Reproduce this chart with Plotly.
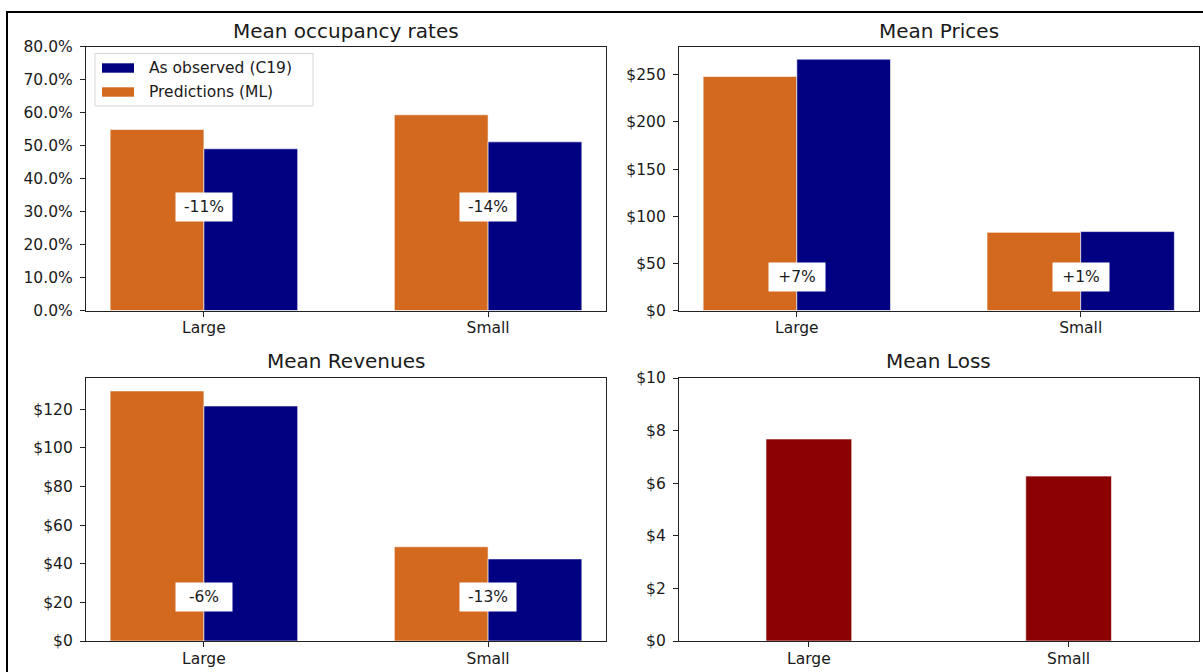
import plotly.graph_objects as go

# ---------------- data ----------------
categories = ["Large", "Small"]
occ_pred = [0.5485, 0.593]
occ_obs = [0.490, 0.511]
price_pred = [248.2, 82.9]
price_obs = [266.6, 83.7]
rev_pred = [129.5, 48.8]
rev_obs = [121.7, 42.5]
loss = [7.68, 6.27]

titles = ["Mean occupancy rates", "Mean Prices", "Mean Revenues", "Mean Loss"]
legend_names = ["As observed (C19)", "Predictions (ML)"]

# ---------------- style ----------------
W, H = 1203, 672
ORANGE = "#D2691E"
NAVY = "#000080"
DARKRED = "#8B0000"
TXT = "#1a1a1a"
FONT = "DejaVu Sans"
TICK_SIZE = 15.5
TITLE_SIZE = 20
BW = 0.33


def px(x):
    return x / W


def py(y):
    return 1 - y / H


fig = go.Figure()

edge = dict(color="rgba(255,255,255,0.75)", width=0.8)

panels = [
    ("x", "y", occ_pred, occ_obs),
    ("x2", "y2", price_pred, price_obs),
    ("x3", "y3", rev_pred, rev_obs),
]
for xa, ya, pred, obs in panels:
    fig.add_trace(go.Bar(x=categories, y=pred, width=BW, offset=-BW,
                         marker=dict(color=ORANGE, line=edge),
                         xaxis=xa, yaxis=ya, showlegend=False,
                         name=legend_names[1]))
    fig.add_trace(go.Bar(x=categories, y=obs, width=BW, offset=0,
                         marker=dict(color=NAVY, line=edge),
                         xaxis=xa, yaxis=ya, showlegend=False,
                         name=legend_names[0]))

fig.add_trace(go.Bar(x=categories, y=loss, width=BW, offset=-BW / 2,
                     marker=dict(color=DARKRED, line=edge),
                     xaxis="x4", yaxis="y4", showlegend=False, name="Mean Loss"))

# ---------------- axes ----------------
left_dom = [px(86), px(606)]
right_dom = [px(679), px(1198.5)]
top_dom = [py(310.5), py(46.5)]
bot_dom = [py(641), py(378)]

common = dict(showline=True, mirror=True, linecolor="#222", linewidth=1.3,
              ticks="outside", ticklen=5, tickwidth=1.2, tickcolor="#222",
              showgrid=False, zeroline=False, automargin=False,
              tickfont=dict(family=FONT, size=TICK_SIZE, color=TXT))

xcommon = dict(common, type="category", categoryorder="array",
               categoryarray=categories, ticklabelstandoff=-2)

fig.update_layout(
    xaxis=dict(xcommon, domain=left_dom, anchor="y", range=[-0.415, 1.415]),
    xaxis2=dict(xcommon, domain=right_dom, anchor="y2", range=[-0.415, 1.415]),
    xaxis3=dict(xcommon, domain=left_dom, anchor="y3", range=[-0.415, 1.415]),
    xaxis4=dict(xcommon, domain=right_dom, anchor="y4", range=[-0.5, 1.5]),
    yaxis=dict(common, domain=top_dom, anchor="x", range=[0, 0.8],
               dtick=0.1, tick0=0, tickformat=".1%", ticklabelstandoff=4),
    yaxis2=dict(common, domain=top_dom, anchor="x2", range=[0, 280],
                dtick=50, tick0=0, tickprefix="$", ticklabelstandoff=4),
    yaxis3=dict(common, domain=bot_dom, anchor="x3", range=[0, 136.2],
                dtick=20, tick0=0, tickprefix="$", ticklabelstandoff=4),
    yaxis4=dict(common, domain=bot_dom, anchor="x4", range=[0, 10],
                dtick=2, tick0=0, tickprefix="$", ticklabelstandoff=4),
)

# ---------------- titles ----------------
annotations = []
title_pos = [((86 + 606) / 2, 30.5), ((679 + 1198.5) / 2, 30.5),
             ((86 + 606) / 2, 360.5), ((679 + 1198.5) / 2, 360.5)]
for t, (cx, cy) in zip(titles, title_pos):
    annotations.append(dict(text=t, x=px(cx), y=py(cy), xref="paper", yref="paper",
                            xanchor="center", yanchor="middle", showarrow=False,
                            font=dict(family=FONT, size=TITLE_SIZE, color=TXT)))

# ---------------- change labels ----------------
label_specs = [("x", "y", occ_pred, occ_obs, 0.315),
               ("x2", "y2", price_pred, price_obs, 36),
               ("x3", "y3", rev_pred, rev_obs, 22.8)]
for xa, ya, pred, obs, ylab in label_specs:
    for cat, p, o in zip(categories, pred, obs):
        change = (o / p - 1) * 100
        annotations.append(dict(text="{:+.0f}%".format(change), x=cat, y=ylab,
                                xref=xa, yref=ya, showarrow=False,
                                xanchor="center", yanchor="middle",
                                bgcolor="white", borderpad=5,
                                width=46, height=18,
                                font=dict(family=FONT, size=TICK_SIZE, color=TXT)))

# ---------------- legend (drawn) ----------------
shapes = []
shapes.append(dict(type="rect", xref="paper", yref="paper",
                   x0=px(95), x1=px(313), y0=py(106), y1=py(53.5),
                   line=dict(color="#d6d6d6", width=1), fillcolor="rgba(255,255,255,0.85)"))
leg_rows = [(legend_names[0], NAVY, 68), (legend_names[1], ORANGE, 92)]
for name, col, cy in leg_rows:
    shapes.append(dict(type="rect", xref="paper", yref="paper",
                       x0=px(102), x1=px(134), y0=py(cy + 4.7), y1=py(cy - 4.7),
                       line=dict(width=0), fillcolor=col))
    annotations.append(dict(text=name, x=px(147), y=py(cy), xref="paper", yref="paper",
                            xanchor="left", yanchor="middle", showarrow=False,
                            font=dict(family=FONT, size=TICK_SIZE, color=TXT)))

# outer frame
shapes.append(dict(type="rect", xref="paper", yref="paper",
                   x0=px(7), x1=px(1230), y0=py(700), y1=py(12),
                   line=dict(color="black", width=2), fillcolor="rgba(0,0,0,0)"))

fig.update_layout(
    width=W, height=H,
    margin=dict(l=0, r=0, t=0, b=0),
    paper_bgcolor="white", plot_bgcolor="white",
    barmode="overlay",
    showlegend=False,
    annotations=annotations,
    shapes=shapes,
    font=dict(family=FONT, color=TXT),
)

fig.write_html("out.html", config={"displayModeBar": False})
